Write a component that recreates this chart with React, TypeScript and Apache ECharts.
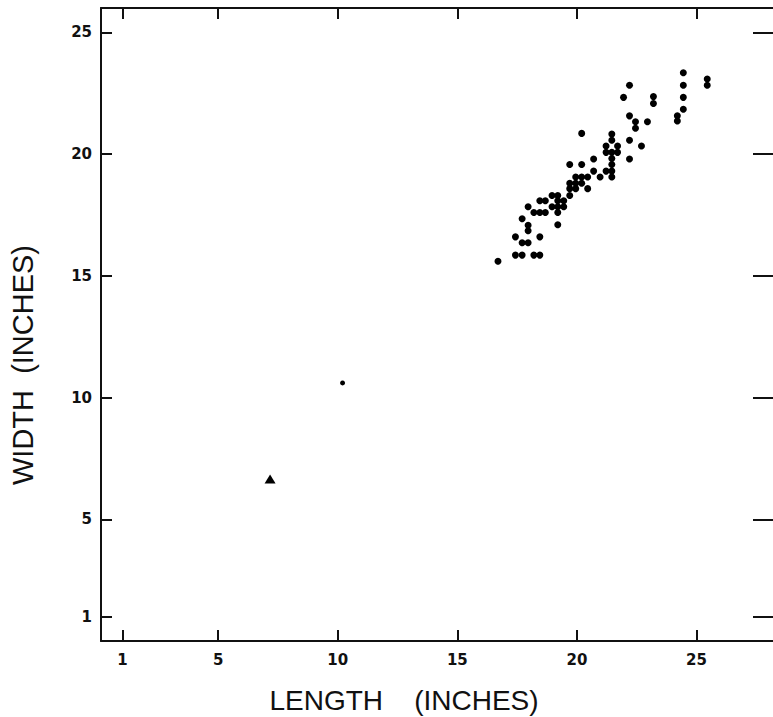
import React, { useEffect, useRef } from "react";
import * as echarts from "echarts";

const xTicks = [1, 5, 10, 15, 20, 25];
const yTicks = [1, 5, 10, 15, 20, 25];

const lengthIn = [
  16.7, 17.43, 17.71, 18.2, 18.45, 17.43, 17.71, 17.96, 18.45, 17.96,
  17.96, 17.71, 19.2, 18.2, 18.45, 18.68, 17.96, 18.45, 18.68, 18.96,
  19.2, 19.45, 19.2, 18.96, 19.2, 19.2, 19.45, 19.7, 19.7, 19.95,
  19.7, 19.95, 20.2, 19.95, 20.2, 20.45, 20.45, 19.7, 20.2, 20.7,
  20.7, 20.97, 21.22, 20.2, 21.46, 21.46, 21.22, 21.7, 21.22, 21.46,
  21.7, 21.46, 21.46, 21.46, 21.46, 22.2, 22.2, 22.45, 22.45, 22.7,
  22.95, 22.2, 23.2, 23.2, 21.95, 22.2, 24.2, 24.2, 24.45, 24.45,
  24.45, 24.45, 25.45, 25.45,
];
const widthIn = [
  15.6, 15.85, 15.85, 15.85, 15.85, 16.6, 16.36, 16.36, 16.6, 16.85,
  17.08, 17.34, 17.1, 17.6, 17.6, 17.6, 17.84, 18.08, 18.08, 17.84,
  17.84, 17.84, 17.6, 18.3, 18.3, 18.08, 18.08, 18.3, 18.58, 18.58,
  18.8, 18.8, 18.8, 19.06, 19.06, 19.06, 18.58, 19.57, 19.57, 19.8,
  19.3, 19.06, 19.3, 20.85, 20.82, 20.57, 20.33, 20.33, 20.07, 20.07,
  20.07, 19.82, 19.57, 19.3, 19.06, 20.57, 19.8, 21.33, 21.06, 20.33,
  21.33, 21.57, 22.36, 22.08, 22.33, 22.83, 21.57, 21.36, 21.84, 22.33,
  22.83, 23.34, 23.08, 22.83,
];
const loneLength = [10.2];
const loneWidth = [10.6];
const triangleLength = [7.17];
const triangleWidth = [6.65];

const X_MIN = 0.1;
const X_MAX = 28.2;
const Y_MIN = 0;
const Y_MAX = 26;

export default function App() {
  const ref = useRef<HTMLDivElement>(null);

  useEffect(() => {
    if (!ref.current) return;
    const chart = echarts.init(ref.current, undefined, { renderer: "svg" });

    const lineStyle = { color: "#111", width: 2 };
    const labelStyle = {
      fontFamily: "DejaVu Sans",
      fontWeight: "bold" as const,
      fontSize: 15,
      color: "#111",
    };

    const mainData = lengthIn.map((x, i) => [x, widthIn[i]]);
    const loneData = loneLength.map((x, i) => [x, loneWidth[i]]);
    const triData = triangleLength.map((x, i) => [x, triangleWidth[i]]);

    chart.setOption({
      animation: false,
      backgroundColor: "#fff",
      grid: { left: 101, right: 0, top: 8, bottom: 76, containLabel: false },
      xAxis: [
        {
          type: "value",
          position: "bottom",
          min: X_MIN,
          max: X_MAX,
          axisLine: { show: true, onZero: false, lineStyle },
          axisTick: { show: true, inside: true, length: 11, customValues: xTicks, lineStyle },
          axisLabel: { show: true, customValues: xTicks, margin: 11, ...labelStyle },
          splitLine: { show: false },
        },
        {
          type: "value",
          position: "top",
          min: X_MIN,
          max: X_MAX,
          axisLine: { show: true, onZero: false, lineStyle },
          axisTick: { show: true, inside: true, length: 11, customValues: xTicks, lineStyle },
          axisLabel: { show: false },
          splitLine: { show: false },
        },
      ],
      yAxis: [
        {
          type: "value",
          position: "left",
          min: Y_MIN,
          max: Y_MAX,
          axisLine: { show: true, onZero: false, lineStyle },
          axisTick: { show: true, inside: true, length: 11, customValues: yTicks, lineStyle },
          axisLabel: { show: true, customValues: yTicks, margin: 9, ...labelStyle },
          splitLine: { show: false },
        },
        {
          type: "value",
          position: "right",
          min: Y_MIN,
          max: Y_MAX,
          axisLine: { show: false },
          axisTick: { show: true, inside: true, length: 20, customValues: yTicks, lineStyle },
          axisLabel: { show: false },
          splitLine: { show: false },
        },
      ],
      graphic: [
        {
          type: "text",
          x: 404,
          y: 700,
          style: {
            text: "LENGTH    (INCHES)",
            fontFamily: "Liberation Sans",
            fontSize: 28,
            fill: "#111",
            align: "center",
            verticalAlign: "middle",
          },
        },
        {
          type: "text",
          x: 23,
          y: 365,
          rotation: Math.PI / 2,
          style: {
            text: "WIDTH  (INCHES)",
            fontFamily: "Liberation Sans",
            fontSize: 29,
            fill: "#111",
            align: "center",
            verticalAlign: "middle",
          },
        },
      ],
      series: [
        {
          type: "scatter",
          xAxisIndex: 0,
          yAxisIndex: 0,
          data: mainData,
          symbol: "circle",
          symbolSize: 7,
          itemStyle: { color: "#000", opacity: 1 },
        },
        {
          type: "scatter",
          xAxisIndex: 0,
          yAxisIndex: 0,
          data: loneData,
          symbol: "circle",
          symbolSize: 5,
          itemStyle: { color: "#000", opacity: 1 },
        },
        {
          type: "scatter",
          xAxisIndex: 0,
          yAxisIndex: 0,
          data: triData,
          symbol: "triangle",
          symbolSize: [11, 9],
          itemStyle: { color: "#000", opacity: 1 },
        },
      ],
    });

    return () => chart.dispose();
  }, []);

  return (
    <div
      ref={ref}
      style={{ position: "fixed", left: 0, top: 0, width: 773, height: 717, background: "#fff" }}
    />
  );
}
